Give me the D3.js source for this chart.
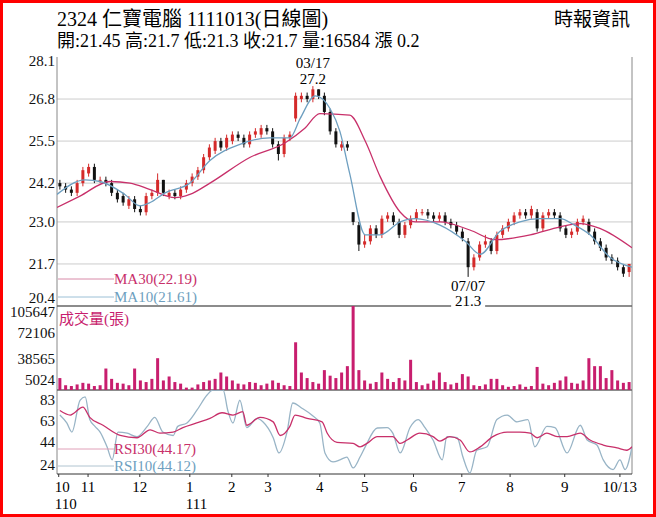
<!DOCTYPE html>
<html><head><meta charset="utf-8">
<script src="https://cdn.jsdelivr.net/npm/d3@7"></script>
<style>body{margin:0;background:#fff}svg{display:block}</style>
</head><body><svg id="c" width="656" height="517"></svg>
<script>
// ---- data ----
const opens=[24.2,24.1,24.0,23.9,24.2,24.5,24.7,24.3,24.3,24.2,23.9,23.8,23.5,23.7,23.4,23.3,23.8,23.9,24.3,23.8,23.9,23.8,24.0,24.2,24.4,24.6,25.0,25.2,25.5,25.3,25.5,25.7,25.6,25.4,25.7,25.7,25.9,25.8,25.4,25.1,25.6,26.2,26.8,26.9,26.8,27.1,26.9,26.4,25.8,25.3,25.4,23.3,22.9,22.3,22.4,22.8,22.6,23.1,23.2,23.0,22.6,22.9,23.1,23.3,23.3,23.2,23.1,23.2,23.0,22.9,22.7,22.4,21.6,21.9,22.3,22.4,22.1,22.6,22.8,23.0,23.2,23.3,23.2,23.3,22.8,23.2,23.3,23.2,22.8,22.6,22.7,23.0,23.0,22.7,22.4,22.2,21.9,21.8,21.6,21.45];
const highs=[24.3,24.2,24.1,24.3,24.7,24.8,24.8,24.4,24.4,24.3,24.0,23.9,23.8,23.8,23.5,23.9,24.0,24.5,24.3,24.0,24.0,24.1,24.3,24.5,24.7,25.1,25.4,25.6,25.6,25.7,25.8,25.8,25.7,25.8,25.9,26.0,26.0,25.9,25.5,25.7,25.8,27.0,27.0,27.0,27.2,27.1,27.0,26.5,25.9,25.5,25.5,23.3,23.0,22.6,22.9,22.9,23.2,23.3,23.3,23.1,23.0,23.2,23.4,23.4,23.4,23.3,23.3,23.3,23.1,23.0,22.8,22.5,22.0,22.4,22.6,22.5,22.7,22.9,23.1,23.3,23.4,23.4,23.5,23.4,23.3,23.4,23.4,23.3,22.9,22.8,23.1,23.2,23.1,22.8,22.5,22.3,22.0,21.9,21.7,21.7];
const lows=[24.0,23.9,23.8,23.8,24.1,24.4,24.2,24.2,24.1,23.8,23.6,23.5,23.4,23.3,23.2,23.2,23.7,23.8,23.8,23.7,23.7,23.7,23.9,24.1,24.3,24.5,24.9,25.1,25.2,25.2,25.4,25.5,25.3,25.3,25.6,25.6,25.7,25.3,24.9,25.0,25.5,26.1,26.7,26.7,26.7,26.8,26.3,25.7,25.3,25.2,25.2,22.9,22.1,22.2,22.3,22.5,22.5,23.0,22.9,22.5,22.5,22.8,23.0,23.2,23.1,23.0,23.0,22.9,22.8,22.6,22.4,21.3,21.5,21.8,22.2,22.0,22.0,22.5,22.7,22.9,23.1,23.1,23.1,22.7,22.7,23.1,23.1,22.7,22.5,22.5,22.6,22.9,22.6,22.3,22.1,21.8,21.7,21.5,21.3,21.3];
const closes=[24.1,24.0,23.9,24.2,24.6,24.7,24.3,24.3,24.2,23.9,23.7,23.6,23.7,23.4,23.3,23.8,23.9,24.3,23.9,23.9,23.8,24.0,24.2,24.4,24.6,25.0,25.3,25.5,25.3,25.6,25.7,25.6,25.4,25.7,25.8,25.9,25.8,25.4,25.1,25.6,25.7,26.9,26.9,26.8,27.1,26.9,26.4,25.8,25.4,25.4,25.3,23.0,22.3,22.4,22.8,22.6,23.1,23.2,23.0,22.6,22.9,23.1,23.3,23.3,23.2,23.1,23.2,23.0,22.9,22.7,22.5,21.6,21.9,22.3,22.4,22.1,22.6,22.8,23.0,23.2,23.3,23.2,23.4,22.8,23.2,23.3,23.2,22.8,22.6,22.7,23.0,23.1,22.7,22.4,22.2,21.9,21.8,21.6,21.4,21.7];
const volumes=[15,6,5,7,9,8,5,6,27,14,9,8,6,27,12,10,14,40,12,17,10,8,3,3,7,10,12,14,22,17,12,8,7,10,9,6,8,12,9,6,5,60,22,15,10,8,25,18,15,22,30,105.647,25,12,8,10,22,14,10,15,12,38,10,6,8,12,22,10,7,9,20,17,6,5,7,14,14,6,4,5,7,4,5,29,8,6,9,12,17,9,8,12,40,30,30,15,25,12,9,10];
const ma30=[[0,23.45],[4,23.8],[9.2,24.25],[12.7,24.2],[16.2,24.0],[20.5,23.75],[23.1,23.85],[26.6,24.2],[33.6,25.0],[39.7,25.45],[43.1,25.9],[45.7,26.35],[50.9,26.3],[53.6,25.5],[56.2,24.4],[59.7,23.3],[62.3,23.0],[66.6,23.0],[71.8,22.75],[76.2,22.45],[82.3,22.6],[87.5,22.85],[91,22.95],[94.4,22.8],[100,22.2]];
const ma10=[[0,23.85],[4.9,24.3],[7.5,24.25],[11.8,23.85],[14.4,23.5],[16.2,23.6],[18.8,23.9],[23.1,24.2],[26.6,24.9],[31.8,25.4],[37,25.6],[40.5,25.6],[42.3,26.2],[44.9,26.9],[47.5,26.5],[49.2,25.8],[50.9,24.5],[53.6,22.6],[56.2,22.6],[59.7,23.0],[62.3,23.1],[66.6,22.9],[71,22.4],[73.6,22.0],[77,22.7],[80.5,23.0],[84,23.1],[87.5,23.1],[90,22.9],[92.7,22.6],[96.2,21.9],[100,21.6]];
const rsi30=[[0.5,72],[2.3,68],[4.5,75],[5.7,66],[8,59],[11,50],[13.9,48],[16.2,55],[17.9,52],[20.2,53],[21.9,57],[24.3,61],[26.6,65],[28.7,70],[30.6,68],[32.3,71],[33,59],[35.3,66],[37.6,62],[38.8,50],[40.5,58],[41.4,68],[43.5,65],[46.1,62],[47,52],[48.7,44],[51.5,43],[52.7,40],[53.9,43],[55.7,49],[58.4,49],[59.7,43],[60.9,46],[63.1,52],[65.4,49],[66.6,45],[68.3,49],[70.1,46],[71.8,35.5],[73.6,40],[75.8,49],[78.3,53],[80.5,53],[82.3,52],[83.5,48],[85.2,52],[87,49],[88.7,49],[91,52],[92.7,46],[95,41.6],[97.4,39],[99.1,37],[100,40]];
const rsi10=[[0.5,68],[1.7,61],[2.6,53],[4,81],[4.9,84],[5.7,64],[6.6,58],[7.5,53],[8.7,40],[9.6,28.6],[10.6,53],[12.2,52],[13.9,49],[15.7,58],[17,66],[18.4,53],[20.2,50],[21,58],[22.6,61],[24.3,72],[26.1,85.6],[27.1,90],[28.9,90],[29.7,72],[30.6,61],[31.8,81],[33,57],[34.8,65],[35.8,62],[37.6,48],[38.6,34.6],[40,53],[41,78.6],[42.6,74],[44.3,68],[45.7,61],[46.6,34.6],[48,26.7],[49.2,28.5],[50.4,31],[51.5,21.4],[52.7,31],[53.6,40],[55.7,56.6],[57.4,57],[58.4,52],[59.7,34.6],[61.4,57],[62.8,64],[64,57],[65.4,46],[67,28.5],[67.8,49],[69.6,48],[70.6,31],[71.8,17],[73,37],[74.8,40],[76.5,64],[78.3,68],[80,62],[81.9,64],[83.1,40],[85.2,58],[86.6,57],[88.7,34.6],[91,59],[92.2,46],[93.9,41.6],[95,28.5],[96.7,20],[97.9,28.5],[98.8,20],[100,40]];
const priceTicks=[28.1,26.8,25.5,24.2,23.0,21.7,20.4];
const volTicks=[105647,72106,38565,5024];
const rsiTicks=[83,63,44,24];
const monthTicks=[[0.3,"10","110"],[5.4,"11",""],[14.4,"12",""],[23.1,"1","111"],[30.4,"2",""],[36.7,"3",""],[45.7,"4",""],[53.5,"5",""],[62,"6",""],[70.4,"7",""],[78.8,"8",""],[88.3,"9",""],[97.9,"10/13",""]];

// ---- drawing ----
const svg=d3.select("#c");
const L=57,R=632,PT=57,PB=306,VB=390,RB=474;
const serif="'Liberation Serif','DejaVu Serif',serif";
const cjk="'Liberation Serif','Noto Sans CJK TC',serif";
const x=d3.scaleLinear().domain([0,100]).range([L,R]);
const y=d3.scaleLinear().domain([20.4,28.1]).range([PB,PT]);
const yv=d3.scaleLinear().domain([0,105647]).range([VB,PB]);
const yr=d3.scaleLinear().domain([24,83]).range([465,398]);
const UP="#d42a2a",DN="#111",MA30C="#c8306a",MA10C="#6e9fc0",VC="#c81e6e",R10C="#98b4c6";

svg.append("rect").attr("x",1.5).attr("y",1.5).attr("width",653).attr("height",514).attr("fill","none").attr("stroke","#f00").attr("stroke-width",3);

svg.append("text").attr("x",57).attr("y",26).attr("font-family",cjk).attr("font-size",20).text("2324  仁寶電腦 1111013(日線圖)");
svg.append("text").attr("x",57).attr("y",47).attr("font-family",cjk).attr("font-size",18).text("開:21.45 高:21.7 低:21.3 收:21.7 量:16584 漲 0.2");
svg.append("text").attr("x",630).attr("y",26).attr("text-anchor","end").attr("font-family",cjk).attr("font-size",19).text("時報資訊");

svg.selectAll(".g").data(priceTicks.slice(1,6)).join("line").attr("x1",L).attr("x2",R).attr("y1",d=>y(d)).attr("y2",d=>y(d)).attr("stroke","#ccc");
svg.append("line").attr("x1",L).attr("x2",L).attr("y1",PT).attr("y2",RB).attr("stroke","#888");
svg.append("line").attr("x1",R).attr("x2",R).attr("y1",PT).attr("y2",RB).attr("stroke","#888");
[PB,VB].forEach(v=>svg.append("line").attr("x1",L).attr("x2",R).attr("y1",v).attr("y2",v).attr("stroke","#666").attr("stroke-width",1.3));
svg.append("line").attr("x1",L).attr("x2",R).attr("y1",RB).attr("y2",RB).attr("stroke","#333");

// tick labels (edge labels nudged inward so they don't collide)
const lab=(arr,sc,fmt,nudge)=>svg.append("g").selectAll("text").data(arr).join("text").attr("x",55).attr("y",(d,i)=>sc(d)+5+nudge(i,arr.length)).attr("text-anchor","end").attr("font-family",serif).attr("font-size",15).attr("fill","#111").text(fmt);
lab(priceTicks,y,d=>d.toFixed(1),(i,n)=>i==n-1?-8:(i==0?4:0));
lab(volTicks,yv,d=>d,(i,n)=>i==0?6:(i==n-1?-6:0));
lab(rsiTicks,yr,d=>d,(i,n)=>i==0?2:0);

svg.append("clipPath").attr("id","cp").append("rect").attr("x",L).attr("y",PT).attr("width",R-L).attr("height",PB-PT);
svg.append("clipPath").attr("id","cr").append("rect").attr("x",L).attr("y",VB).attr("width",R-L).attr("height",RB-VB);

const idx=d3.range(closes.length);
const cg=svg.append("g").attr("clip-path","url(#cp)");
cg.selectAll("line").data(idx).join("line").attr("x1",i=>x(i+0.5)).attr("x2",i=>x(i+0.5)).attr("y1",i=>y(highs[i])).attr("y2",i=>y(lows[i])).attr("stroke",i=>closes[i]>=opens[i]?UP:DN).attr("stroke-width",1);
cg.selectAll("rect").data(idx).join("rect").attr("x",i=>x(i+0.5)-1.5).attr("width",3).attr("y",i=>y(Math.max(opens[i],closes[i]))).attr("height",i=>Math.max(1,Math.abs(y(opens[i])-y(closes[i])))).attr("fill",i=>closes[i]>=opens[i]?UP:DN);

const ln=(sy)=>d3.line().x(d=>x(d[0])).y(d=>sy(d[1])).curve(d3.curveMonotoneX);
cg.append("path").datum(ma30).attr("d",ln(y)).attr("fill","none").attr("stroke",MA30C).attr("stroke-width",1.3);
cg.append("path").datum(ma10).attr("d",ln(y)).attr("fill","none").attr("stroke",MA10C).attr("stroke-width",1.3);

const ann=(t,xx,yy)=>svg.append("text").attr("x",xx).attr("y",yy).attr("text-anchor","middle").attr("font-family",serif).attr("font-size",15).text(t);
ann("03/17",x(44.5),68);ann("27.2",x(44.5),84);
svg.append("rect").attr("x",x(71.5)-17).attr("y",292).attr("width",34).attr("height",16).attr("fill","#fff");
ann("07/07",x(71.5),291);ann("21.3",x(71.5),306);

const leg=(yy,c,t,lc)=>{svg.append("line").attr("x1",L+1).attr("x2",114).attr("y1",yy).attr("y2",yy).attr("stroke",lc);svg.append("text").attr("x",114).attr("y",yy+5).attr("font-family",serif).attr("font-size",15).attr("fill",c).text(t);};
leg(279,MA30C,"MA30(22.19)","#d88aa8");leg(297,MA10C,"MA10(21.61)","#9cc0d6");

svg.append("g").selectAll("rect").data(idx).join("rect").attr("x",i=>x(i+0.5)-1.5).attr("width",3).attr("y",i=>yv(volumes[i]*1000)).attr("height",i=>VB-yv(volumes[i]*1000)).attr("fill",VC);
svg.append("text").attr("x",59).attr("y",324).attr("font-family",cjk).attr("font-size",15).attr("fill",VC).text("成交量(張)");

const rg=svg.append("g").attr("clip-path","url(#cr)");
rg.append("path").datum(rsi10).attr("d",ln(yr)).attr("fill","none").attr("stroke",R10C).attr("stroke-width",1.3);
rg.append("path").datum(rsi30).attr("d",ln(yr)).attr("fill","none").attr("stroke",MA30C).attr("stroke-width",1.3);
leg(449,MA30C,"RSI30(44.17)","#e0a0b8");leg(466,"#6e9fc0","RSI10(44.12)","#b0c4d0");

const xg=svg.append("g");
xg.selectAll("line").data(monthTicks).join("line").attr("x1",d=>x(d[0])).attr("x2",d=>x(d[0])).attr("y1",RB).attr("y2",RB+3).attr("stroke","#333");
xg.selectAll("text.a").data(monthTicks).join("text").attr("x",d=>x(d[0])).attr("y",492).attr("text-anchor",(d,i)=>i==0?"start":"middle").attr("font-family",serif).attr("font-size",15).text(d=>d[1]).attr("dx",(d,i)=>i==0?-4:0);
xg.selectAll("text.b").data(monthTicks.filter(d=>d[2])).join("text").attr("x",d=>x(d[0])-4).attr("y",509).attr("font-family",serif).attr("font-size",15).text(d=>d[2]);
</script></body></html>
